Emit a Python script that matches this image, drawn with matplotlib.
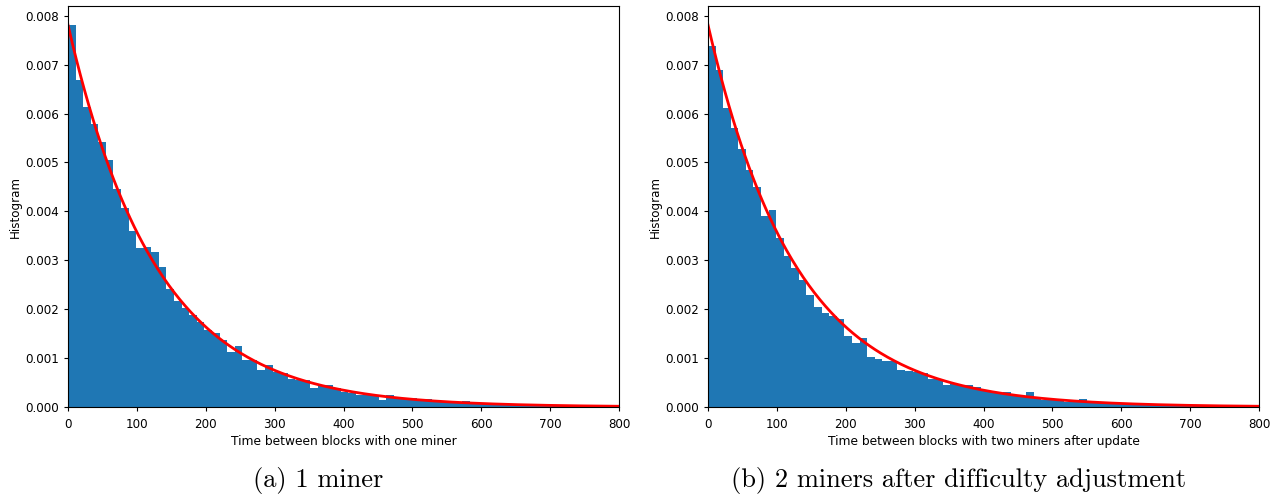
import numpy as np
import matplotlib
matplotlib.use("Agg")
import matplotlib.pyplot as plt

# histogram densities (x1e-3), bins of 11 time units starting at 0
bin_width = 11
one_miner = [7.81, 6.68, 6.14, 5.78, 5.42, 5.06, 4.46, 4.07, 3.59, 3.25,
             3.28, 3.16, 2.86, 2.41, 2.16, 2.03, 1.88, 1.73, 1.57, 1.52,
             1.38, 1.13, 1.24, 0.97, 0.97, 0.75, 0.86, 0.71, 0.70, 0.57,
             0.55, 0.55, 0.39, 0.44, 0.46, 0.39, 0.30, 0.29, 0.25, 0.24,
             0.22, 0.14, 0.25, 0.21, 0.19, 0.19, 0.17, 0.16, 0.14, 0.13,
             0.08, 0.08, 0.12, 0.07, 0.06, 0.06, 0.05, 0.05, 0.04, 0.04,
             0.03, 0.03, 0.03, 0.02, 0.02, 0.02, 0.02, 0.015, 0.01, 0.01,
             0.01, 0.01, 0.01]
two_miners = [7.38, 6.89, 6.12, 5.70, 5.27, 4.84, 4.49, 3.90, 4.02, 3.46,
              3.09, 2.84, 2.59, 2.29, 2.05, 1.92, 1.87, 1.79, 1.45, 1.31,
              1.42, 1.02, 0.99, 0.95, 0.95, 0.76, 0.73, 0.71, 0.69, 0.57,
              0.58, 0.46, 0.48, 0.46, 0.44, 0.41, 0.34, 0.30, 0.29, 0.30,
              0.22, 0.21, 0.31, 0.19, 0.14, 0.14, 0.13, 0.11, 0.11, 0.16,
              0.12, 0.09, 0.08, 0.09, 0.06, 0.06, 0.05, 0.05, 0.06, 0.04,
              0.03, 0.03, 0.03, 0.02, 0.02, 0.02, 0.02, 0.015, 0.01, 0.01,
              0.01, 0.01, 0.01]
mean_time = 128  # mean block time of the exponential model

xlabels = ["Time between blocks with one miner",
           "Time between blocks with two miners after update"]
captions = ["(a) 1 miner", "(b) 2 miners after difficulty adjustment"]
caption_x = [318 / 1280, 959 / 1280]

fig = plt.figure(figsize=(12.8, 4.95), dpi=100)
lefts = [68 / 1280, 708 / 1280]

t = np.linspace(0, 800, 400)
pdf = np.exp(-t / mean_time) / mean_time

for left, cx, data, xl, cap in zip(lefts, caption_x, [one_miner, two_miners],
                                   xlabels, captions):
    ax = fig.add_axes([left, 1 - 407 / 495, 551 / 1280, 401 / 495])
    h = np.array(data) * 1e-3
    edges = np.arange(len(h) + 1) * bin_width
    ax.stairs(h, edges, fill=True, color="#1f77b4")
    ax.plot(t, pdf, color="red", linewidth=2)
    ax.set_xlim(0, 800)
    ax.set_ylim(0, 0.0082)
    ax.set_yticks(np.arange(0, 0.0081, 0.001))
    ax.yaxis.set_major_formatter(matplotlib.ticker.FormatStrFormatter("%.3f"))
    ax.tick_params(labelsize=8.6, length=3)
    ax.tick_params(axis="x", pad=5)
    ax.set_xlabel(xl, fontsize=8.8, labelpad=3)
    ax.set_ylabel("Histogram", fontsize=8.6, labelpad=2)
    fig.text(cx, 1 - 481 / 495, cap, ha="center", va="center",
             fontsize=19, family=["cmr10", "DejaVu Serif"])

fig.savefig("out.png", dpi=100)
